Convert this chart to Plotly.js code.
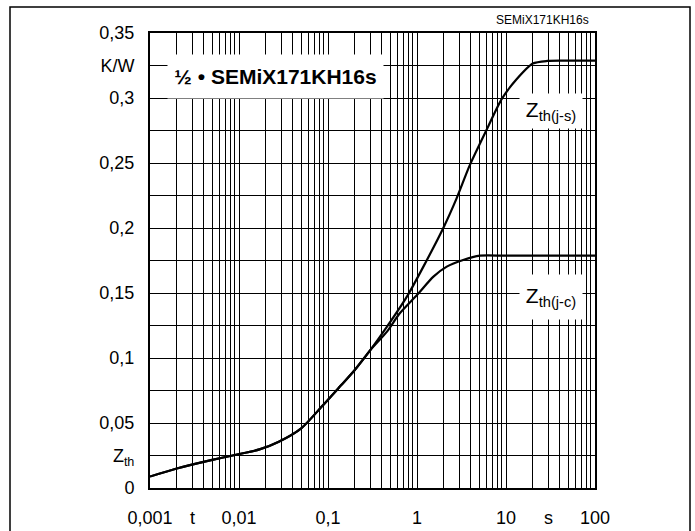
<!DOCTYPE html>
<html>
<head>
<meta charset="utf-8">
<script src="https://cdn.plot.ly/plotly-3.0.1.min.js"></script>
<style>html,body{margin:0;padding:0;background:#fff;}#chart{width:695px;height:531px;}</style>
</head>
<body>
<div id="chart"></div>
<script>
// Thermal impedance data
const tJS = [0.001, 0.002, 0.005, 0.009, 0.017, 0.028, 0.05, 0.085, 0.14, 0.2, 0.3, 0.46, 0.77, 1.18, 2.0, 2.8, 3.9, 6.1, 9.0, 13, 20, 29, 50, 100];
const zJS = [0.0088, 0.0150, 0.0216, 0.0254, 0.0297, 0.0356, 0.0459, 0.0626, 0.0790, 0.0908, 0.1062, 0.1241, 0.1472, 0.1703, 0.2008, 0.2232, 0.2480, 0.2760, 0.2995, 0.3140, 0.3265, 0.3285, 0.3287, 0.3287];
const tJC = [0.001, 0.002, 0.005, 0.009, 0.017, 0.028, 0.05, 0.085, 0.14, 0.2, 0.3, 0.46, 0.64, 1.0, 1.53, 2.16, 3.3, 5.1, 10, 100];
const zJC = [0.0088, 0.0150, 0.0216, 0.0254, 0.0297, 0.0356, 0.0459, 0.0626, 0.0790, 0.0908, 0.1062, 0.1203, 0.1344, 0.1485, 0.1626, 0.1703, 0.1754, 0.1787, 0.1787, 0.1787];

const xTickVals = [0.001,0.002,0.003,0.004,0.005,0.006,0.007,0.008,0.009,
                   0.01,0.02,0.03,0.04,0.05,0.06,0.07,0.08,0.09,
                   0.1,0.2,0.3,0.4,0.5,0.6,0.7,0.8,0.9,
                   1,2,3,4,5,6,7,8,9,
                   10,20,30,40,50,60,70,80,90,100];
const xTickText = ["0,001","","t","","","","","","",
                   "0,01","","","","","","","","",
                   "0,1","","","","","","","","",
                   "1","","","","","","","","",
                   "10","","s","","","","","","","100"];
const yTickVals = [0,0.025,0.05,0.075,0.1,0.125,0.15,0.175,0.2,0.225,0.25,0.275,0.3,0.325,0.35];
const yTickText = ["0","Z<sub>th</sub>","0,05","","0,1","","0,15","","0,2","","0,25","","0,3","K/W","0,35"];

const labelTitle = "½ • SEMiX171KH16s";
const labelCorner = "SEMiX171KH16s";
const labelJS = "Z<sub>th(j-s)</sub>";
const labelJC = "Z<sub>th(j-c)</sub>";

const FONT = '"Liberation Sans", Arial, Helvetica, sans-serif';

const traces = [
  {x: tJS, y: zJS, type: 'scatter', mode: 'lines', line: {color: '#000', width: 2.2, shape: 'spline', smoothing: 0.7}, hoverinfo: 'skip'},
  {x: tJC, y: zJC, type: 'scatter', mode: 'lines', line: {color: '#000', width: 2.2, shape: 'spline', smoothing: 0.7}, hoverinfo: 'skip'}
];

const layout = {
  width: 695, height: 531,
  margin: {l: 150, r: 100, t: 33, b: 43},
  paper_bgcolor: '#fff', plot_bgcolor: '#fff',
  showlegend: false,
  font: {family: FONT, size: 18, color: '#000'},
  xaxis: {
    type: 'log', range: [-3, 2],
    tickmode: 'array', tickvals: xTickVals, ticktext: xTickText,
    ticks: '', showgrid: true, gridcolor: '#000', gridwidth: 1,
    showline: true, linecolor: '#000', linewidth: 2, mirror: true,
    zeroline: false, ticklabelstandoff: 12,
    tickfont: {family: FONT, size: 18, color: '#000'}
  },
  yaxis: {
    range: [0, 0.35],
    tickmode: 'array', tickvals: yTickVals, ticktext: yTickText,
    ticks: '', showgrid: true, gridcolor: '#000', gridwidth: 1,
    showline: true, linecolor: '#000', linewidth: 2, mirror: true,
    zeroline: false, ticklabelstandoff: 10,
    tickfont: {family: FONT, size: 18, color: '#000'}
  },
  shapes: [
    {type: 'rect', xref: 'paper', yref: 'paper', x0: -0.3146, x1: 1.2135, y0: -0.12, y1: 1.0571,
     line: {color: '#000', width: 1.5}, fillcolor: 'rgba(0,0,0,0)', layer: 'below'}
  ],
  annotations: [
    {xref: 'paper', yref: 'paper', x: 0.2820, y: 0.9044, xanchor: 'center', yanchor: 'middle',
     text: labelTitle, showarrow: false, bgcolor: '#fff', width: 215, height: 43, borderpad: 0,
     font: {family: FONT, size: 21, color: '#000', weight: 'bold'}},
    {xref: 'paper', yref: 'paper', x: 0.9011, y: 0.8286, xanchor: 'center', yanchor: 'middle',
     text: labelJS, showarrow: false, bgcolor: '#fff', width: 62, height: 34, borderpad: 0,
     font: {family: FONT, size: 21, color: '#000'}},
    {xref: 'paper', yref: 'paper', x: 0.9011, y: 0.4198, xanchor: 'center', yanchor: 'middle',
     text: labelJC, showarrow: false, bgcolor: '#fff', width: 62, height: 44, borderpad: 0,
     font: {family: FONT, size: 21, color: '#000'}},
    {xref: 'paper', yref: 'paper', x: 0.991, y: 1.028, xanchor: 'right', yanchor: 'middle',
     text: labelCorner, showarrow: false,
     font: {family: FONT, size: 12, color: '#000'}}
  ]
};

Plotly.newPlot('chart', traces, layout, {staticPlot: true, displayModeBar: false});
</script>
</body>
</html>
